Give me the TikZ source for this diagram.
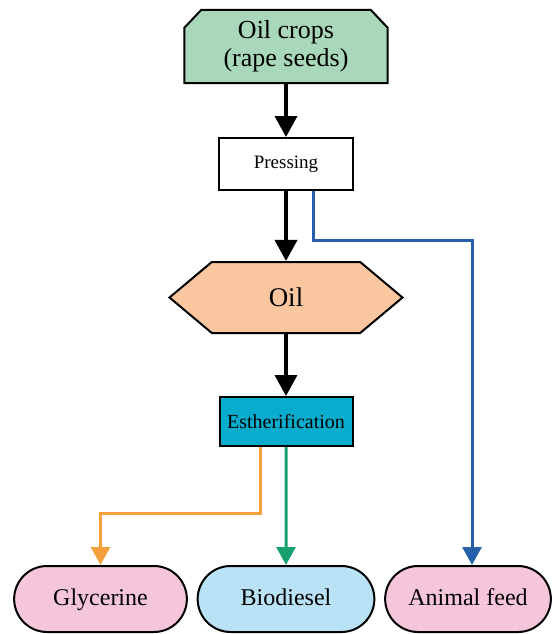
\documentclass[tikz,border=0pt]{standalone}
\usepackage{fontspec}
\setmainfont{Liberation Serif}
\usetikzlibrary{positioning,backgrounds,shapes.misc,shapes.symbols,arrows.meta}

\definecolor{cropgreen}{RGB}{168,216,185}
\definecolor{oilpeach}{RGB}{250,198,160}
\definecolor{estcyan}{RGB}{8,172,204}
\definecolor{prodpink}{RGB}{245,198,218}
\definecolor{prodsky}{RGB}{186,226,246}
\definecolor{glyorange}{RGB}{245,160,60}
\definecolor{biogreen}{RGB}{22,160,110}
\definecolor{feedblue}{RGB}{40,95,170}

\begin{document}
\begin{tikzpicture}[x=1pt,y=-1pt,inner sep=0.4mm,
  box/.style={draw,line width=2pt,align=center},
  prod/.style={box,rounded rectangle,minimum height=66pt,text height=17pt,text depth=5pt,
    font=\fontsize{24}{26}\selectfont},
  flow/.style={line width=3.6pt,-{Triangle[length=21pt,width=22pt]}},
  side/.style={line width=3pt,-{Triangle[length=18pt,width=19pt]}}]
\useasboundingbox (0,0) rectangle (555,634);
\node[align=center,minimum width=203pt,minimum height=73pt,font=\fontsize{26}{28}\selectfont]
  (crops) at (286,46.5) {Oil crops\\(rape seeds)};
\begin{scope}[on background layer]
\draw[box,fill=cropgreen] (crops.south west) -- ([yshift=-18pt]crops.north west)
  -- ([xshift=17pt]crops.north west) -- ([xshift=-17pt]crops.north east)
  -- ([yshift=-18pt]crops.north east) -- (crops.south east) -- cycle;
\end{scope}
\node[box,fill=white,minimum width=134pt,minimum height=52pt,font=\fontsize{19}{21}\selectfont] (press) at (286,164) {Pressing};
\node[box,fill=oilpeach,signal,signal to=west and east,signal pointer angle=80,
  minimum width=233pt,minimum height=71pt,font=\fontsize{27}{29}\selectfont] (oil) at (286,297.5) {Oil};
\node[box,fill=estcyan,minimum width=133pt,minimum height=49pt,font=\fontsize{20}{22}\selectfont] (est) at (286,421.5) {Estherification};
\node[prod,fill=prodpink,minimum width=175pt] (gly) at (100.5,599) {Glycerine};
\node[prod,fill=prodsky,minimum width=179pt] (bio) at (286,599) {Biodiesel};
\node[prod,fill=prodpink,minimum width=168pt] (feed) at (468,599) {Animal feed};
\draw[flow] (crops) -- (press);
\draw[flow] (press) -- (oil);
\draw[flow] (oil) -- (est);
\draw[side,feedblue] ([xshift=27pt]press.south) -- ++(0,49) -| ([xshift=4pt]feed.north);
\draw[side,glyorange] ([xshift=-26pt]est.south) -- ++(0,66) -| (gly.north);
\draw[side,biogreen] (est) -- (bio);
\end{tikzpicture}
\end{document}
